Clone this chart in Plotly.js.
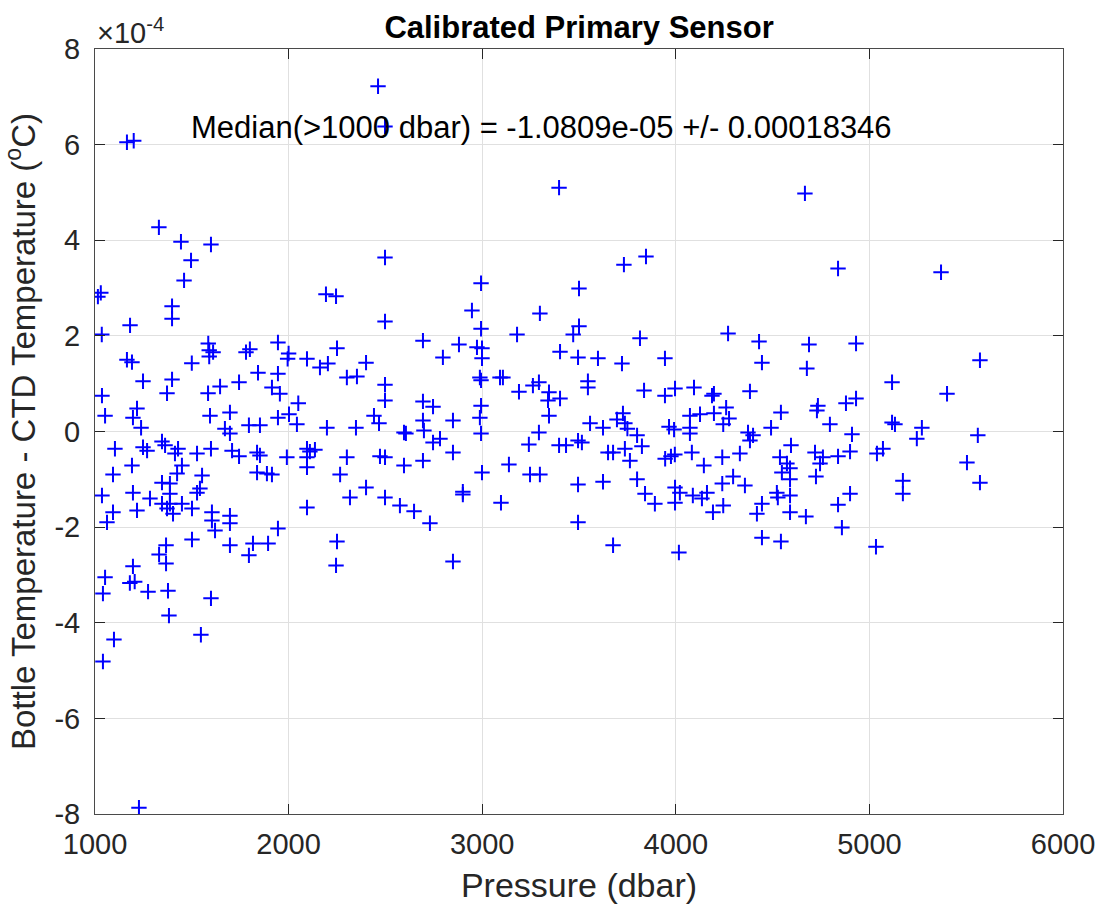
<!DOCTYPE html>
<html>
<head>
<meta charset="utf-8">
<script src="https://cdn.plot.ly/plotly-3.0.1.min.js"></script>
<style>html,body{margin:0;padding:0;background:#fff;}#chart{width:1103px;height:907px;}</style>
</head>
<body>
<div id="chart"></div>
<script>
// Pressure (dbar) of each bottle
const pressure = [
1165,1200,1330,1444,1599,1496,1460,1015,1030,1398,1398,1181,1035,
2462,2498,2498,2193,2245,2994,2947,2498,2994,3180,
3397,3846,3732,3500,3298,3500,3470,4667,4838,5370,4270,
1585,1590,1610,1590,1780,1800,1945,2000,1995,2095,1165,1191,1500,
1248,1398,1372,1036,1584,1646,1744,1842,1945,1914,1955,2050,
1052,1217,1196,1238,1594,1697,1671,1697,1795,1852,1945,2002,2043,
1103,1248,1269,1346,1362,1429,1413,1527,1599,1708,1744,1837,1852,1991,
1191,1449,1424,1093,1553,1837,1888,1914,
1346,1387,1542,1527,1036,1196,1284,1387,1387,1346,1372,1449,1501,1093,1217,1403,1062,1604,1604,1697,1697,1620,1945,2095,
1367,1331,1367,1501,1697,1816,1894,1795,1196,1052,1180,1205,1274,1377,1041,1599,1382,1098,1547,1041,1227,
2250,2245,2849,3676,4016,4445,4543,4858,5034,
2694,2880,2973,2999,2999,2250,2162,2203,2400,2797,2301,2353,2498,2988,2994,3092,3107,3190,2498,2694,2746,2994,
2441,2467,2694,2699,2849,2988,2994,2198,2348,2596,2606,2746,2782,2849,2095,2110,2136,2095,2095,2301,2472,2498,
2596,2694,2266,2999,3138,2400,2317,2498,2900,2900,2575,2648,2730,3097,
3815,3402,3495,3598,3722,3944,3546,3546,3262,3293,3345,3340,3402,3345,3836,3944,3996,4094,4187,4197,4260,
3727,3696,3737,3750,3557,3624,3800,4073,4125,4073,4073,4197,3965,3991,4245,3293,3241,3397,3433,3495,3515,
3650,3676,3737,3825,3763,3945,3975,3995,4083,4145,4240,3247,3298,3495,3624,3800,3841,3892,3996,4021,3996,
4088,4135,4161,4240,4192,4245,3495,
4430,4688,4931,4445,4677,5571,5117,5401,4383,4275,4543,4734,4729,4879,4931,4796,4492,4373,4399,4383,
5117,5132,5271,5245,5560,4910,4595,4331,4538,4574,4548,4590,4719,4760,4745,4838,4900,5070,5039,5504,
4296,4357,4724,5173,5173,5571,4590,4590,4522,4527,4900,4838,4445,4419,4590,4672
];
// Bottle minus CTD temperature, in units of 1e-4 degC (axis shows x10^-4)
const tempDiff = [
6.05,6.08,4.27,3.97,3.91,3.58,3.16,2.82,2.90,2.62,2.36,2.22,2.03,
7.22,6.38,3.64,2.87,2.83,3.10,2.53,2.30,2.15,2.03,
5.10,3.66,3.49,2.99,2.47,2.20,2.03,4.98,3.41,3.33,2.05,
1.84,1.70,1.66,1.57,1.66,1.72,1.86,1.63,1.52,1.52,1.50,1.45,1.43,
1.05,1.09,0.80,0.75,0.80,0.94,1.03,1.23,1.21,0.92,0.79,0.59,
0.33,0.48,0.29,0.08,0.33,0.40,0.06,-0.04,0.13,0.13,0.29,0.36,0.15,
-0.36,-0.33,-0.40,-0.21,-0.29,-0.36,-0.46,-0.46,-0.36,-0.40,-0.52,-0.44,-0.50,-0.54,
-0.71,-0.71,-0.88,-0.90,-0.92,-0.86,-0.88,-0.90,
-1.07,-1.09,-1.19,-1.28,-1.34,-1.28,-1.40,-1.30,-1.51,-1.51,-1.61,-1.51,-1.61,-1.69,-1.65,-1.72,-1.90,-1.69,-1.86,-1.76,-1.92,-2.07,-2.03,-1.59,
-2.38,-2.57,-2.76,-2.26,-2.38,-2.34,-2.34,-2.59,-2.82,-3.05,-3.17,-3.14,-3.35,-3.33,-3.39,-3.49,-3.85,-4.35,-4.25,-4.81,-7.87,
-2.30,-2.80,-2.72,-2.38,-2.53,-2.22,-2.30,-2.01,-2.41,
1.90,1.82,1.76,1.74,1.53,1.74,1.34,1.42,1.44,1.55,1.13,1.15,0.98,1.13,1.07,1.13,1.13,0.83,0.65,0.63,0.52,0.54,
0.33,0.17,0.23,0.02,0.23,0.29,-0.04,0.08,0.08,-0.02,-0.04,-0.23,-0.15,-0.44,-0.36,-0.42,-0.38,-0.54,-0.75,-0.54,-0.52,-0.54,
-0.71,-0.61,-0.90,-0.86,-0.69,-1.17,-1.38,-1.38,-1.26,-1.32,-1.55,-1.67,-1.92,-1.49,
1.95,1.67,1.55,1.53,1.42,1.53,1.05,0.92,0.96,1.03,0.82,0.65,0.69,0.33,0.86,0.75,0.90,0.92,0.75,0.79,0.50,
0.38,0.25,0.17,0.06,0.17,0.08,-0.08,0.33,0.36,0.08,-0.04,0.38,0.10,0.04,0.15,-0.02,-0.27,-0.29,-0.29,-0.19,-0.23,
-0.44,-0.44,-0.36,-0.31,-0.61,-0.57,-0.52,-0.48,-0.44,-0.71,-0.54,-0.90,-0.90,-1.11,-1.05,-1.00,-1.30,-1.51,-1.17,-1.28,-1.49,
-1.34,-1.40,-1.28,-1.09,-1.69,-1.55,-1.90,
1.88,1.82,1.84,1.44,1.32,1.49,1.03,0.79,0.84,0.27,0.40,0.54,0.44,0.59,0.69,0.15,0.08,-0.02,-0.08,-0.19,
0.19,0.15,0.08,-0.15,-0.08,-0.06,-0.29,-0.46,-0.54,-0.67,-0.86,-0.77,-0.44,-0.54,-0.67,-0.52,-0.42,-0.36,-0.46,-0.65,
-0.94,-1.13,-0.94,-1.03,-1.30,-1.07,-1.00,-1.34,-1.28,-1.38,-1.30,-1.53,-1.51,-1.72,-1.69,-1.78
];
const xTicks = [1000,2000,3000,4000,5000,6000];
const yTicks = [-8,-6,-4,-2,0,2,4,6,8];
const chartTitle = 'Calibrated Primary Sensor';
const xLabel = 'Pressure (dbar)';
const yLabel = 'Bottle Temperature - CTD Temperature (<sup>o</sup>C)';
const medianText = 'Median(>1000 dbar) = -1.0809e-05 +/- 0.00018346';
const medianPos = {x: 1485, y: 6.35};
const expText = '×10<sup>-4</sup>';

const FONT = 'Liberation Sans, Arial, Helvetica, sans-serif';
const axisCol = '#262626';

const trace = {
  type: 'scatter', mode: 'markers',
  x: pressure, y: tempDiff,
  marker: {symbol: 'cross-thin-open', size: 11, color: '#0000ff', line: {color: '#0000ff', width: 2}},
  hoverinfo: 'x+y'
};

const axCommon = {
  showgrid: true, gridcolor: '#e0e0e0', gridwidth: 1,
  zeroline: false, showline: true, linecolor: '#4a4a4a', linewidth: 1,
  mirror: 'allticks', ticks: 'inside', ticklen: 10, tickwidth: 1, tickcolor: '#262626',
  tickfont: {family: FONT, size: 29, color: axisCol}
};

const layout = {
  width: 1103, height: 907,
  margin: {l: 95, r: 40, t: 49, b: 93},
  paper_bgcolor: '#ffffff', plot_bgcolor: '#ffffff',
  showlegend: false,
  title: {text: '<b>' + chartTitle + '</b>', font: {family: FONT, size: 31, color: '#000'},
          x: 0.525, xanchor: 'center', y: 0.97, yanchor: 'middle'},
  xaxis: Object.assign({}, axCommon, {
    range: [1000, 6000], tickvals: xTicks, ticktext: xTicks.map(String),
    ticklabelstandoff: 4,
    title: {text: xLabel, font: {family: FONT, size: 34, color: axisCol}, standoff: 14}
  }),
  yaxis: Object.assign({}, axCommon, {
    range: [-8, 8], tickvals: yTicks, ticktext: yTicks.map(String),
    ticklabelstandoff: 8,
    title: {text: yLabel, font: {family: FONT, size: 33, color: axisCol}, standoff: 12}
  }),
  annotations: [
    {x: medianPos.x, y: medianPos.y, xref: 'x', yref: 'y', text: medianText, showarrow: false,
     xanchor: 'left', yanchor: 'middle', font: {family: FONT, size: 31, color: '#000'}},
    {x: 0, y: 1, xref: 'paper', yref: 'paper', text: expText, showarrow: false,
     xanchor: 'left', yanchor: 'bottom', yshift: -2, font: {family: FONT, size: 29, color: axisCol}}
  ]
};

Plotly.newPlot('chart', [trace], layout, {displayModeBar: false, staticPlot: true});
</script>
</body>
</html>
